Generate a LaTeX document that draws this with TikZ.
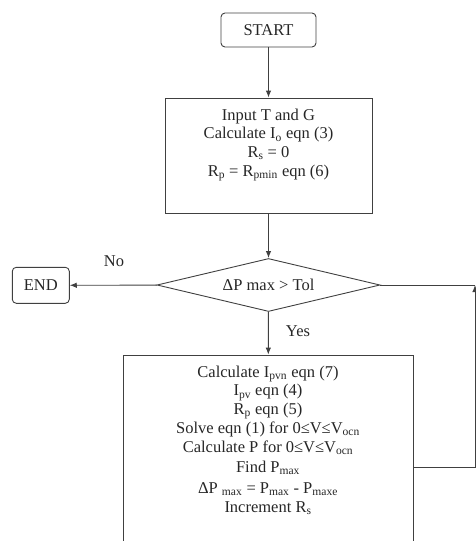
\documentclass[tikz,border=0pt]{standalone}
\usepackage{fontspec}
\setmainfont{Liberation Serif}
\usetikzlibrary{shapes.geometric,arrows.meta}
\newcommand{\sbs}[1]{\textsubscript{#1}}
\begin{document}
\begin{tikzpicture}[x=1pt,y=-1pt,
  every node/.style={font=\fontsize{16.5}{19}\selectfont, text=black!85},
  line/.style={draw=black!75, line width=0.9pt},
  arr/.style={line, -{Latex[length=7pt,width=5.5pt]}},
  term/.style={line, rounded corners=4pt, inner sep=0pt},
  procbox/.style={line, inner sep=0pt},
  txtline/.style={inner sep=0pt, anchor=base},
  decision/.style={line, diamond, inner sep=0pt}
]
\useasboundingbox (0,0) rectangle (476,541);
\node[term, minimum width=95pt, minimum height=34pt] (start) at (268.5,30) {START};
\node[procbox, minimum width=207pt, minimum height=115pt] (b2) at (268.5,155.5) {};
\node[txtline] (l21) at (268.5,120) {Input T and G};
\node[txtline] (l22) at (268.5,138.5) {Calculate I\sbs{o} eqn (3)};
\node[txtline] (l23) at (268.5,157) {R\sbs{s} = 0};
\node[txtline] (l24) at (268.5,176) {R\sbs{p} = R\sbs{pmin} eqn (6)};
\node[decision, minimum width=223pt, minimum height=53pt, shape aspect=4.2] (dec) at (268.5,285) {ΔP max > Tol};
\node[term, minimum width=57pt, minimum height=36pt] (end) at (40.8,285.3) {END};
\node[procbox, minimum width=290pt, minimum height=215pt] (b3) at (268,462.5) {};
\node[txtline] (l31) at (268,377) {Calculate I\sbs{pvn} eqn (7)};
\node[txtline] (l32) at (268,395.5) {I\sbs{pv} eqn (4)};
\node[txtline] (l33) at (268,414) {R\sbs{p} eqn (5)};
\node[txtline] (l34) at (268,433) {Solve eqn (1) for 0≤V≤V\sbs{ocn}};
\node[txtline] (l35) at (268,452) {Calculate P for 0≤V≤V\sbs{ocn}};
\node[txtline] (l36) at (268,472) {Find P\sbs{max}};
\node[txtline] (l37) at (268,493) {ΔP \sbs{max} = P\sbs{max} - P\sbs{maxe}};
\node[txtline] (l38) at (268,512) {Increment R\sbs{s}};
\node[txtline] (no) at (114,266.5) {No};
\node[txtline] (yes) at (298,336.5) {Yes};
\coordinate (c1) at (475,285);
\coordinate (c2) at (475,467);
\draw[arr] (start) -- (b2);
\draw[arr] (b2) -- (dec);
\draw[arr] (dec) -- (end);
\draw[arr] (dec) -- (b3);
\draw[line] (dec.east) -- (c1);
\draw[arr] (b3.east |- c2) -- (c2) -- (c1);
\end{tikzpicture}
\end{document}
